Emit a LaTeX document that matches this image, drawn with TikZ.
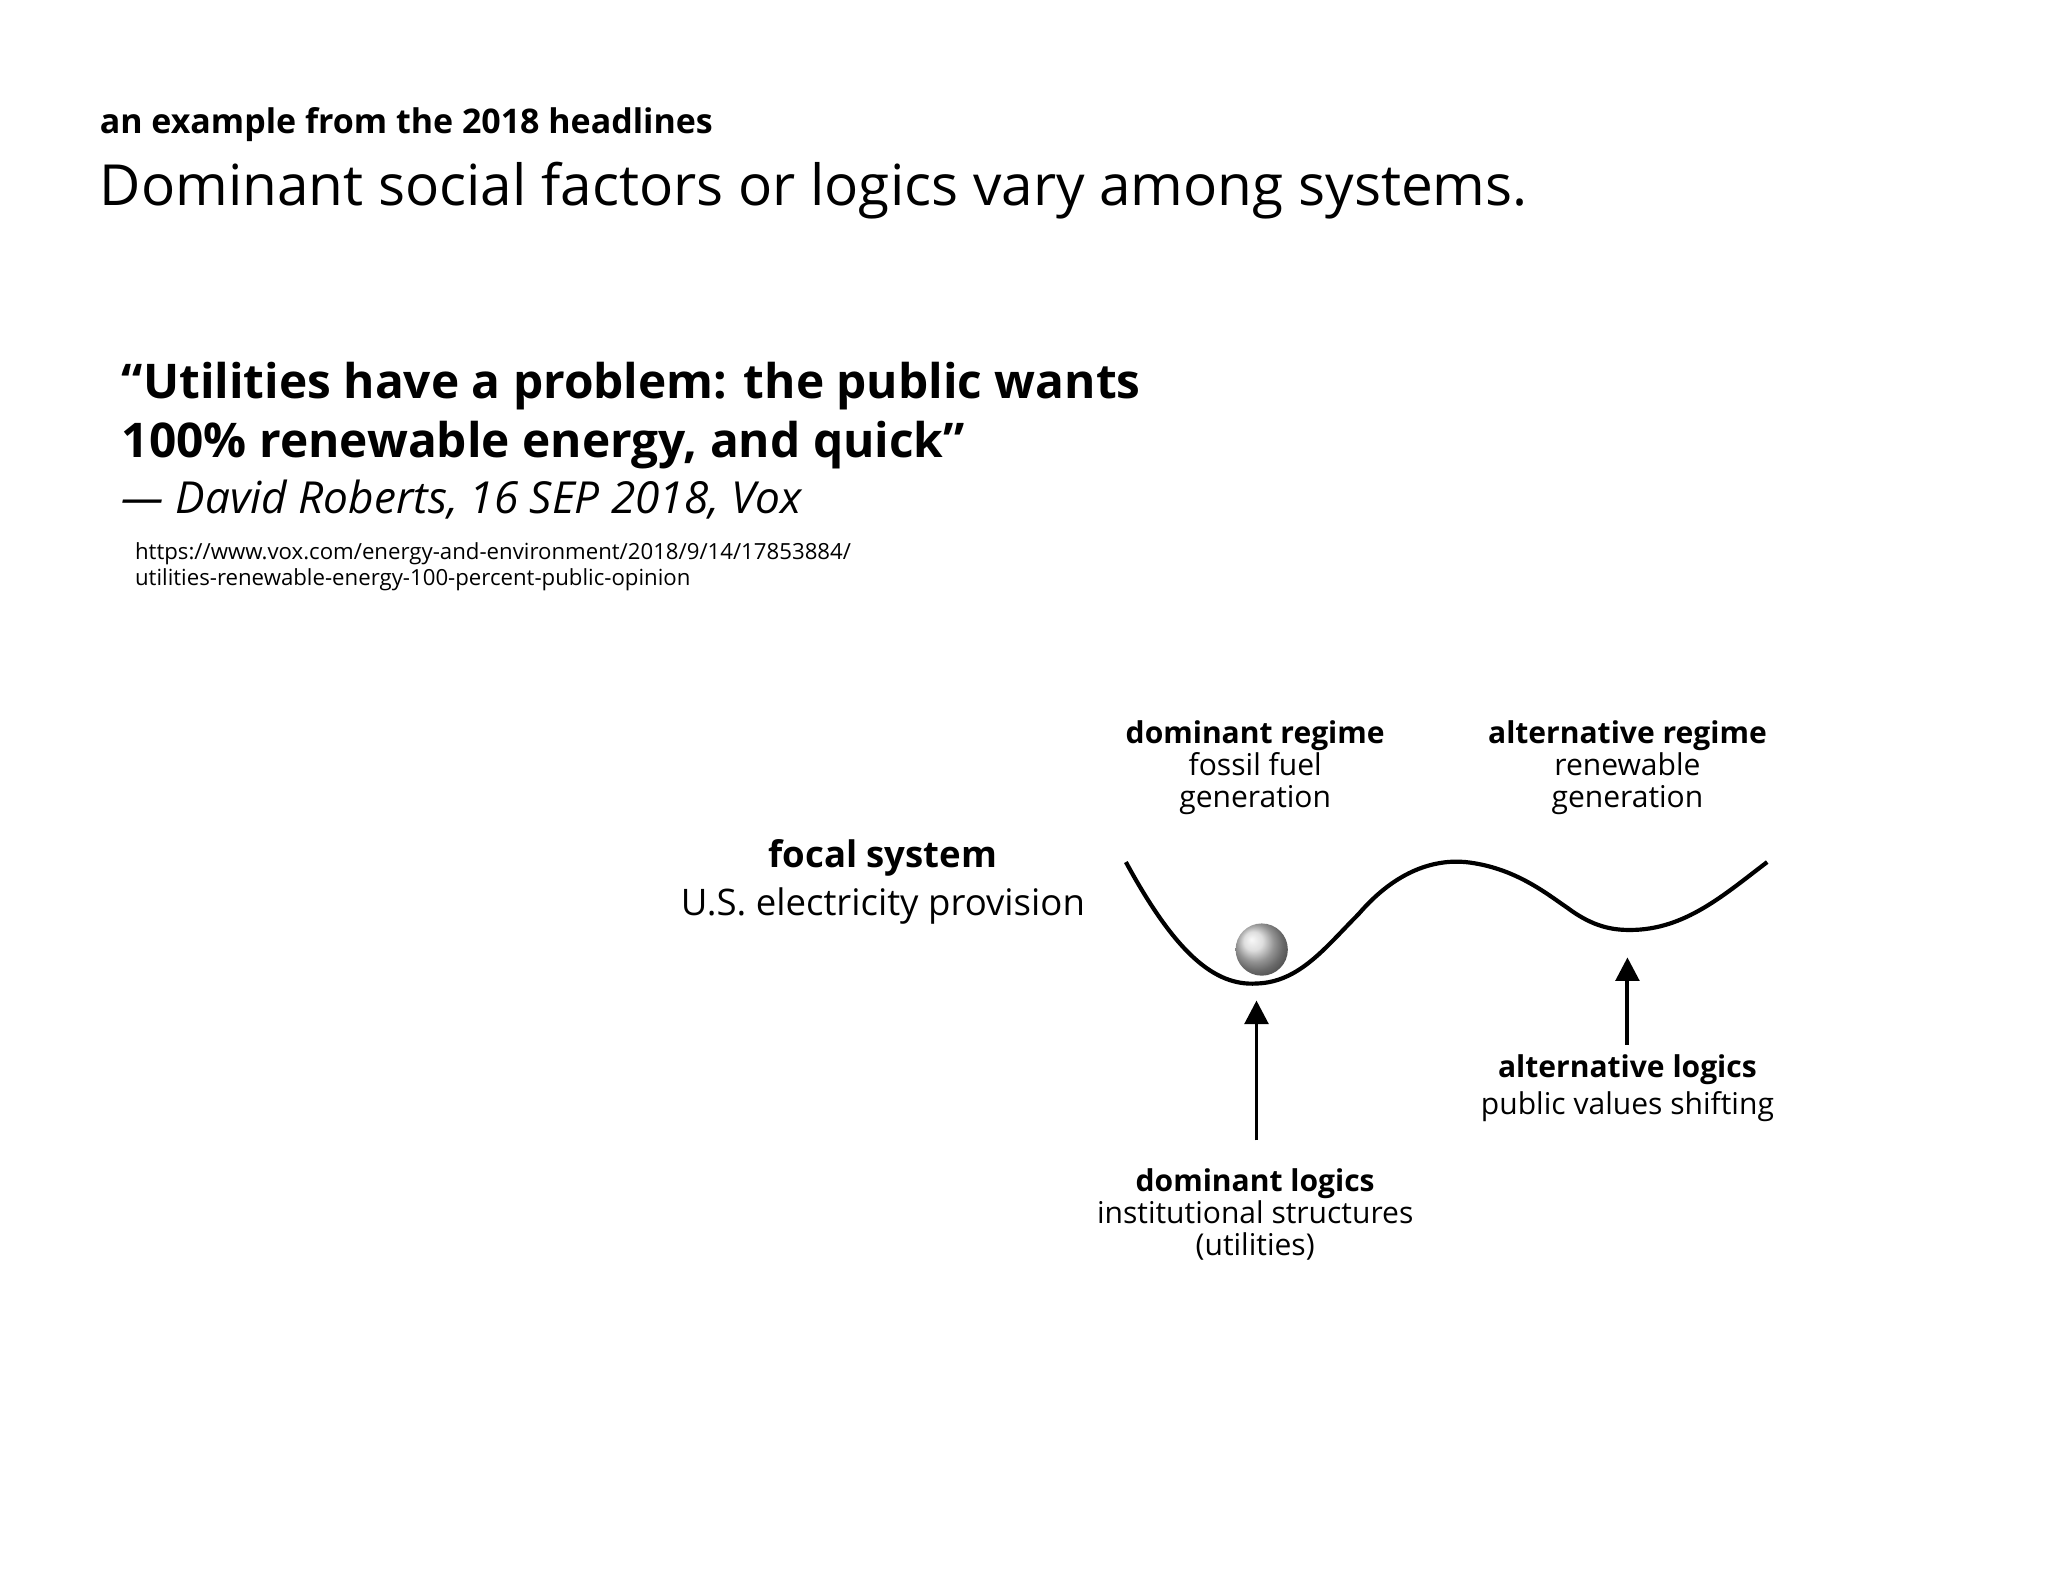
\documentclass[tikz,border=0pt]{standalone}
\usepackage{fontspec}
\setmainfont{Open Sans}
\usetikzlibrary{arrows.meta,shadings}
\begin{document}
\begin{tikzpicture}[x=0.5pt,y=-0.5pt,
  lab/.style={anchor=base,align=center,inner sep=0pt,font=\fontsize{11.5}{12.2}\selectfont},
  lw/.style={anchor=base west,inner sep=0pt},
  arr/.style={line width=1.5pt,-{Triangle[length=9pt,width=9pt]}}]
\useasboundingbox (0,0) rectangle (1568,1211);
\node[lw,font=\bfseries\fontsize{13}{14}\selectfont] (sub) at (76,102) {an example from the 2018 headlines};
\node[lw,font=\fontsize{21.7}{24}\selectfont] (title) at (76,157) {Dominant social factors or logics vary among systems.};
\node[lw,font=\bfseries\fontsize{18.3}{22.5}\selectfont] (q1) at (93,305) {“Utilities have a problem: the public wants};
\node[lw,font=\bfseries\fontsize{18.3}{22.5}\selectfont] (q2) at (93,350) {100\% renewable energy, and quick”};
\node[lw,font=\itshape\fontsize{16.9}{20}\selectfont] (auth) at (93,393) {— David Roberts, 16 SEP 2018, Vox};
\node[lw,font=\fontsize{8.5}{10}\selectfont] (u1) at (103,428) {https://www.vox.com/energy-and-environment/2018/9/14/17853884/};
\node[lw,font=\fontsize{8.5}{10}\selectfont] (u2) at (103,448) {utilities-renewable-energy-100-percent-public-opinion};
\node[lab,font=\bfseries\fontsize{14}{14}\selectfont] (fs) at (676,664) {focal system};
\node[lab,font=\fontsize{14}{14}\selectfont] (fs2) at (676,701) {U.S. electricity provision};
\node[lab] (dr) at (961,618) {\textbf{dominant regime}\\fossil fuel\\generation};
\node[lab] (ar) at (1246,618) {\textbf{alternative regime}\\renewable\\generation};
\draw[line width=1.6pt] (862,660) .. controls (900,730) and (930,755) .. (962,753)
  .. controls (995,752) and (1015,725) .. (1040,700)
  .. controls (1070,665) and (1100,658) .. (1122,660)
  .. controls (1160,664) and (1185,685) .. (1200,695)
  .. controls (1220,710) and (1235,712) .. (1248,712)
  .. controls (1290,712) and (1320,685) .. (1353,660);
\shade[ball color=gray!35] (966,727) circle (20);
\node[lab] (dl) at (961,961) {\textbf{dominant logics}\\institutional structures\\(utilities)};
\node[lab] (al) at (1246,853) {\textbf{alternative logics}\\[2pt]public values shifting};
\coordinate (t1) at (962,766);
\coordinate (t2) at (1246,733);
\draw[arr] (962,873) -- (t1);
\draw[arr] (1246,800) -- (t2);
\end{tikzpicture}
\end{document}
